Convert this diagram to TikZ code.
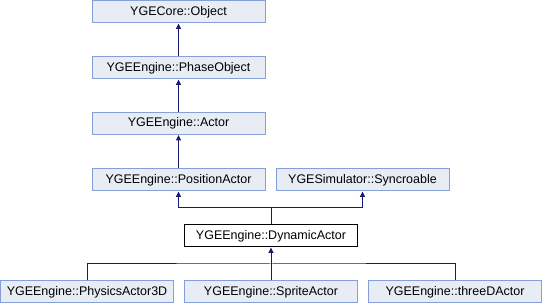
\documentclass[tikz,border=0pt]{standalone}
\usepackage{fontspec}
\setmainfont{Liberation Sans}
\usetikzlibrary{arrows.meta}
\definecolor{clsfill}{HTML}{E8ECF5}
\definecolor{clsdraw}{HTML}{84A0D6}
\definecolor{edge}{HTML}{191970}
\begin{document}
\begin{tikzpicture}[x=1pt,y=-1pt,
  cls/.style={draw=clsdraw,fill=clsfill,line width=1pt,minimum width=173pt,minimum height=22pt,
    inner sep=0pt,font=\fontsize{12.5}{14}\selectfont},
  cur/.style={cls,draw=black,fill=white},
  inh/.style={draw=edge,line width=1pt,-{Triangle[length=5.5pt,width=5pt]}},
  ln/.style={draw=edge,line width=1pt}]
\useasboundingbox (0,0) rectangle (542,304);
\fill[white] (0,0) rectangle (542,304);
% class boxes
\node[cls] (obj)   at (178.5,12)  {YGECore::Object};
\node[cls] (phase) at (178.5,68)  {YGEEngine::PhaseObject};
\node[cls] (actor) at (178.5,123.5) {YGEEngine::Actor};
\node[cls] (pos)   at (178.5,180) {YGEEngine::PositionActor};
\node[cls] (sync)  at (362.5,180) {YGESimulator::Syncroable};
\node[cur] (dyn)   at (271,236)   {YGEEngine::DynamicActor};
\node[cls] (phys)  at (87,292)    {YGEEngine::PhysicsActor3D};
\node[cls] (sprite)at (271,292)   {YGEEngine::SpriteActor};
\node[cls] (three) at (455,292)   {YGEEngine::threeDActor};
% single inheritance chain
\draw[inh] (phase) -- (obj);
\draw[inh] (actor) -- (phase);
\draw[inh] (pos) -- (actor);
% multiple inheritance of DynamicActor
\coordinate (up) at (271,208);
\draw[ln] (dyn) -- (up);
\draw[inh] (up) -| (pos);
\draw[inh] (up) -| (sync);
% subclasses of DynamicActor
\coordinate (down) at (271,264);
\draw[inh] (down) -- (dyn);
\draw[ln] (phys) |- (down) -| (three);
\draw[ln] (sprite) -- (down);
\end{tikzpicture}
\end{document}
